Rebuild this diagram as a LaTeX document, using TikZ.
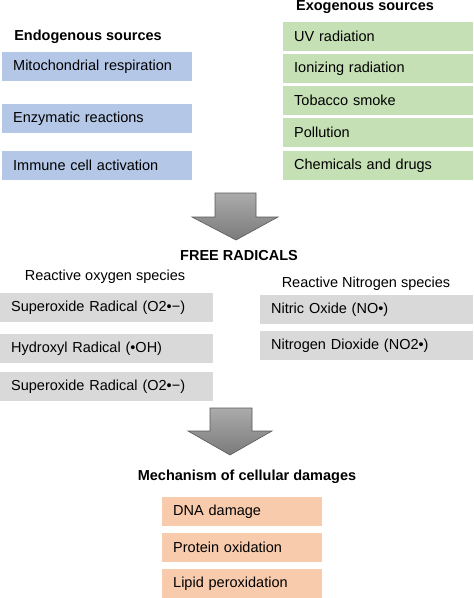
\documentclass[tikz,border=0pt]{standalone}
\usepackage{fontspec}
\setmainfont{Liberation Sans}
\definecolor{endoblue}{HTML}{B4C7E7}
\definecolor{exogreen}{HTML}{C5E0B4}
\definecolor{radgray}{HTML}{D9D9D9}
\definecolor{damorange}{HTML}{F8CBAD}
\begin{document}
\begin{tikzpicture}[x=1pt,y=-1pt,
    srcbox/.style={anchor=north west, minimum height=29pt, inner xsep=11pt, inner ysep=0pt,
      align=left, font=\fontsize{14.5}{17}\selectfont},
    heading/.style={font=\fontsize{14.5}{17}\selectfont\bfseries},
    subheading/.style={font=\fontsize{14.5}{17}\selectfont},
    blockarrow/.style={top color=black!33, bottom color=black!52, draw=black!65, line width=0.6pt}]
    \useasboundingbox (0,0) rectangle (474,598);

    % Endogenous sources
    \node[heading] (endo) at (88,37) {Endogenous sources};
    \node[srcbox, fill=endoblue, text width=168pt] (mito) at (2,52) {Mitochondrial respiration};
    \node[srcbox, fill=endoblue, text width=168pt] (enzy) at (2,104) {Enzymatic reactions};
    \node[srcbox, fill=endoblue, text width=168pt] (immu) at (2,151) {Immune cell activation};

    % Exogenous sources
    \node[heading] (exo) at (365,7.5) {Exogenous sources};
    \foreach \y/\name/\txt in {22/uv/UV radiation, 54/ion/Ionizing radiation, 86/toba/Tobacco smoke,
        118/poll/Pollution, 151/chem/Chemicals and drugs}
      \node[srcbox, fill=exogreen, text width=168pt] (\name) at (283,\y) {\txt};

    % Arrow to free radicals
    \shade[blockarrow] (215,193) -- (256,193) -- (256,217) -- (278,217) -- (236,240)
      -- (192,217) -- (215,217) -- cycle;

    % Free radicals
    \node[heading] (free) at (239,256) {FREE RADICALS};
    \node[subheading] (ros) at (105,277) {Reactive oxygen species};
    \node[srcbox, fill=radgray, text width=191pt] (supa) at (0,293) {Superoxide Radical (O2•−)};
    \node[srcbox, fill=radgray, text width=191pt] (hydr) at (0,334) {Hydroxyl Radical (•OH)};
    \node[srcbox, fill=radgray, text width=191pt] (supb) at (0,372) {Superoxide Radical (O2•−)};

    \node[subheading] (rns) at (366,284) {Reactive Nitrogen species};
    \node[srcbox, fill=radgray, text width=191pt] (nitr) at (260,295) {Nitric Oxide (NO•)};
    \node[srcbox, fill=radgray, text width=191pt] (diox) at (260,331) {Nitrogen Dioxide (NO2•)};

    % Arrow to damages
    \shade[blockarrow] (210,408) -- (252,408) -- (252,431) -- (272,431) -- (230,455)
      -- (188,431) -- (210,431) -- cycle;

    % Cellular damages
    \node[heading] (mech) at (247,477) {Mechanism of cellular damages};
    \node[srcbox, fill=damorange, text width=138pt] (dna) at (162,497) {DNA damage};
    \node[srcbox, fill=damorange, text width=138pt] (prot) at (162,533) {Protein oxidation};
    \node[srcbox, fill=damorange, text width=138pt] (lipi) at (162,569) {Lipid peroxidation};
\end{tikzpicture}
\end{document}
